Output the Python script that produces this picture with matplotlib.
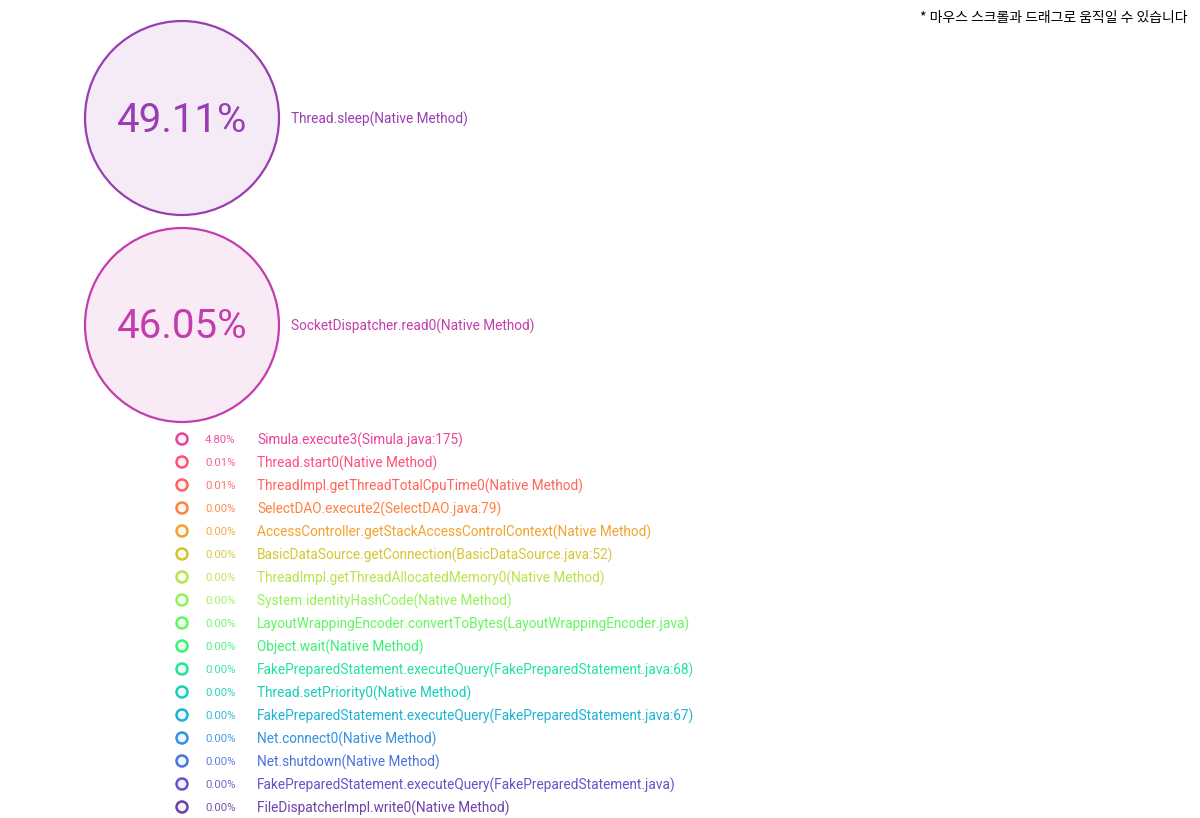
import math
import matplotlib
matplotlib.use("Agg")
import matplotlib.pyplot as plt
from matplotlib.patches import Circle

#%% data
methods = [
    "Thread.sleep(Native Method)",
    "SocketDispatcher.read0(Native Method)",
    "Simula.execute3(Simula.java:175)",
    "Thread.start0(Native Method)",
    "ThreadImpl.getThreadTotalCpuTime0(Native Method)",
    "SelectDAO.execute2(SelectDAO.java:79)",
    "AccessController.getStackAccessControlContext(Native Method)",
    "BasicDataSource.getConnection(BasicDataSource.java:52)",
    "ThreadImpl.getThreadAllocatedMemory0(Native Method)",
    "System.identityHashCode(Native Method)",
    "LayoutWrappingEncoder.convertToBytes(LayoutWrappingEncoder.java)",
    "Object.wait(Native Method)",
    "FakePreparedStatement.executeQuery(FakePreparedStatement.java:68)",
    "Thread.setPriority0(Native Method)",
    "FakePreparedStatement.executeQuery(FakePreparedStatement.java:67)",
    "Net.connect0(Native Method)",
    "Net.shutdown(Native Method)",
    "FakePreparedStatement.executeQuery(FakePreparedStatement.java)",
    "FileDispatcherImpl.write0(Native Method)",
]
percents = [49.11, 46.05, 4.80, 0.01, 0.01, 0.00, 0.00, 0.00, 0.00, 0.00,
            0.00, 0.00, 0.00, 0.00, 0.00, 0.00, 0.00, 0.00, 0.00]
n_big = 2
notice = "* 마우스 스크롤과 드래그로 움직일 수 있습니다"


# d3 interpolateRainbow (cubehelix)
def rainbow(t):
    ts = abs(t - 0.5)
    h = math.radians(360 * t - 100 + 120)
    s = 1.5 - 1.5 * ts
    l = 0.8 - 0.9 * ts
    a = s * l * (1 - l)
    ch, sh = math.cos(h), math.sin(h)
    r = l + a * (-0.14861 * ch + 1.78277 * sh)
    g = l + a * (-0.29227 * ch - 0.90649 * sh)
    b = l + a * (1.97294 * ch)
    return tuple(min(1, max(0, v)) for v in (r, g, b))


colors = [rainbow((i + 1) / len(methods)) for i in range(len(methods))]

plt.rcParams['font.family'] = ['Roboto', 'DejaVu Sans']

fig = plt.figure(figsize=(12, 8.18), dpi=100)
ax = fig.add_axes([0, 0, 1, 1])
ax.set_xlim(0, 1200)
ax.set_ylim(818, 0)
ax.set_aspect('equal')
ax.axis('off')

#%% big bubbles
cx = 182
for i in range(n_big):
    cy = 118 + i * 207
    c = colors[i]
    ax.add_patch(Circle((cx, cy), 97, facecolor=c + (0.1,), edgecolor=c, lw=1.6))
    ax.text(cx, cy + 2, "%.2f%%" % percents[i], color=c, fontsize=29,
            ha='center', va='center')
    ax.text(291, cy + 1, methods[i], color=c, fontsize=9.85, ha='left', va='center')

#%% small list
for k, i in enumerate(range(n_big, len(methods))):
    y = 439 + k * 23
    c = colors[i]
    ax.add_patch(Circle((cx, y), 5.5, facecolor=c + (0.08,), edgecolor=c, lw=1.8))
    ax.text(205, y + 1, "%.2f%%" % percents[i], color=c, fontsize=8.2, alpha=0.9,
            ha='left', va='center')
    ax.text(257, y + 1, methods[i], color=c, fontsize=9.85, ha='left', va='center')

ax.text(1187, 18, notice, color='black', fontsize=10, ha='right', va='center',
        family=['Noto Sans CJK KR', 'DejaVu Sans'])

fig.savefig("out.png", dpi=100, facecolor='white')
